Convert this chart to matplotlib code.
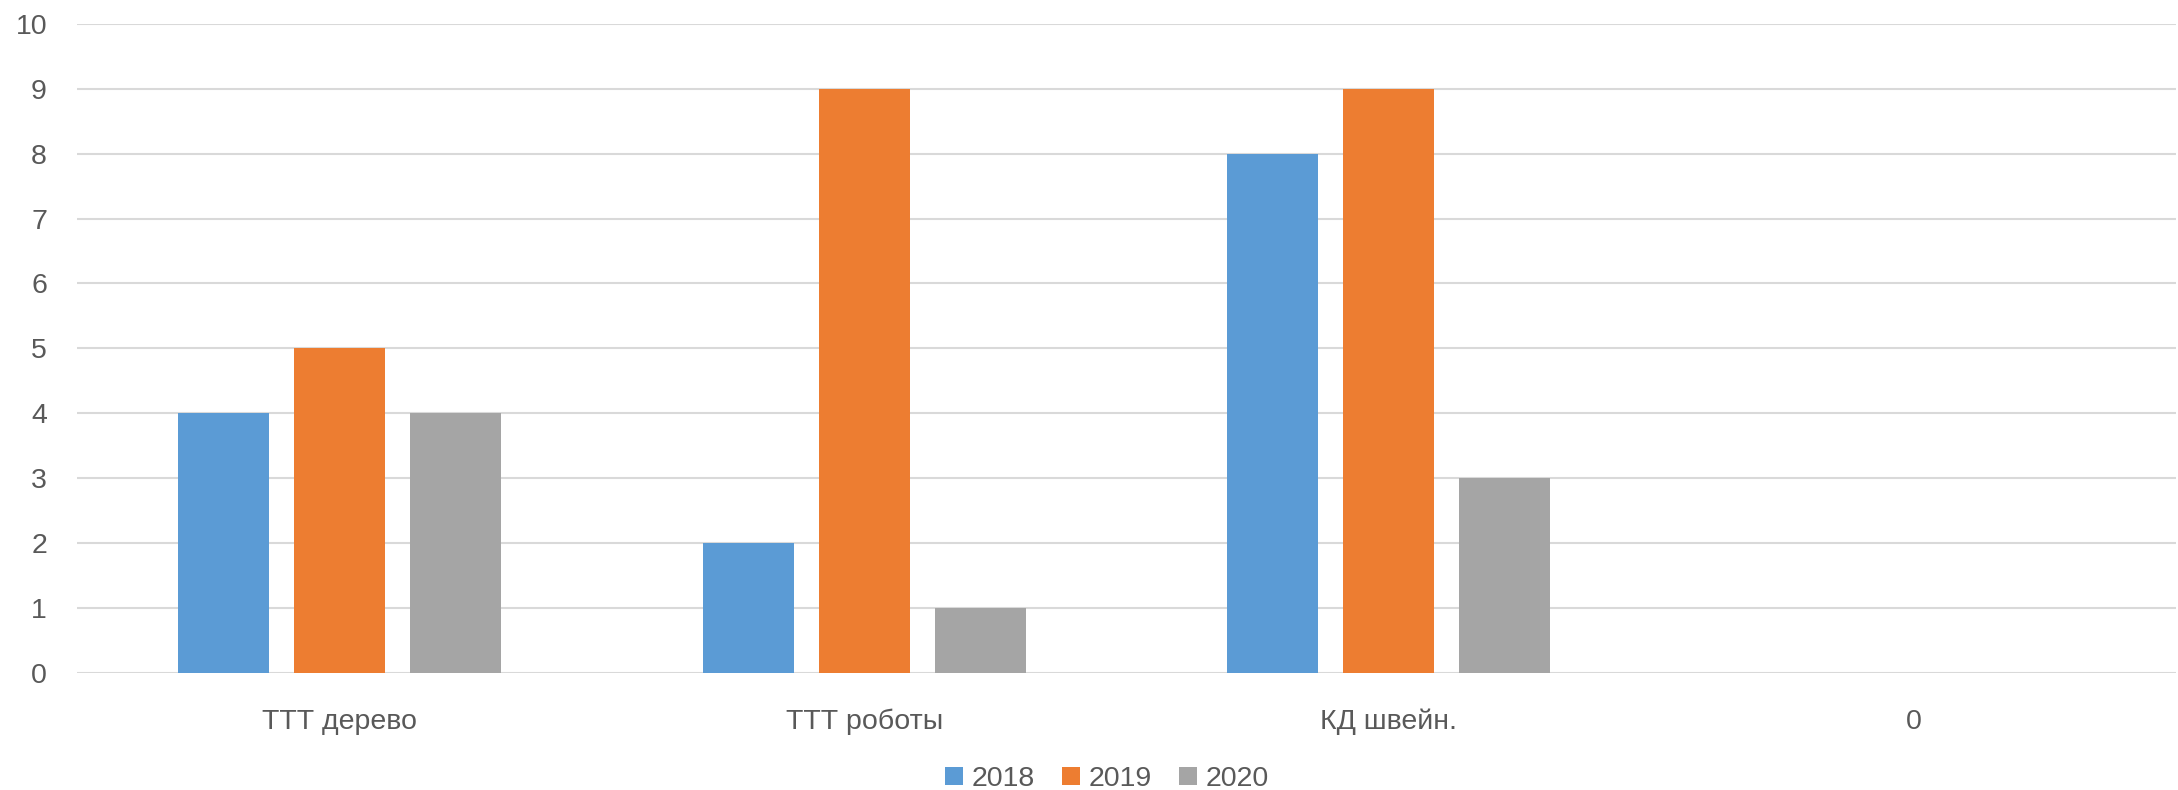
import matplotlib
matplotlib.use("Agg")
import matplotlib.pyplot as plt
import numpy as np

categories = ["ТТТ дерево", "ТТТ роботы", "КД швейн.", "0"]
series_names = ["2018", "2019", "2020"]
values_2018 = [4, 2, 8, 0]
values_2019 = [5, 9, 9, 0]
values_2020 = [4, 1, 3, 0]
colors = ["#5B9BD5", "#ED7D31", "#A5A5A5"]
yticks = [0, 1, 2, 3, 4, 5, 6, 7, 8, 9, 10]

plt.rcParams['font.family'] = ['Liberation Sans', 'DejaVu Sans']
text_color = "#595959"

W, H = 2178, 790
fig = plt.figure(figsize=(W / 100, H / 100), dpi=100)
left, right, bottom, top = 77, 2176, 672.7, 24
ax = fig.add_axes([left / W, (H - bottom) / H, (right - left) / W, (bottom - top) / H])

x = np.arange(len(categories))
bar_w = 91 / 524.75
step = 116 / 524.75
all_vals = [values_2018, values_2019, values_2020]
for i, (vals, name, c) in enumerate(zip(all_vals, series_names, colors)):
    ax.bar(x + (i - 1) * step, vals, width=bar_w, color=c, label=name, zorder=3)

ax.set_xlim(-0.5, len(categories) - 0.5)
ax.set_ylim(0, 10)
ax.set_yticks(yticks)
ax.set_xticks(x)
ax.set_xticklabels(categories)
ax.grid(axis='y', color='#d9d9d9', linewidth=1.5, zorder=0)
ax.set_axisbelow(True)
for s in ax.spines.values():
    s.set_visible(False)
ax.tick_params(axis='both', length=0, labelsize=20.5, colors=text_color)
ax.tick_params(axis='y', pad=21.6)
ax.tick_params(axis='x', pad=26)

handles, labels = ax.get_legend_handles_labels()
leg = fig.legend(handles, labels, loc='center', bbox_to_anchor=(1107 / W, 11 / H),
                 ncol=3, frameon=False, fontsize=20.5, handlelength=0.64, handleheight=0.64,
                 handletextpad=0.32, columnspacing=0.93)
for t in leg.get_texts():
    t.set_color(text_color)

fig.savefig("out.png", dpi=100, facecolor='white')
